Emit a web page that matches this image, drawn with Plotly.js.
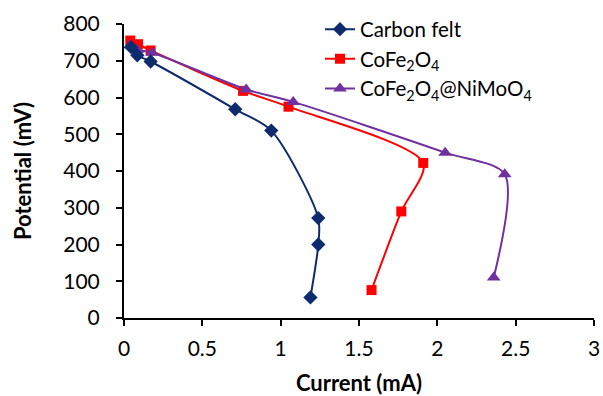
<!DOCTYPE html>
<html>
<head>
<meta charset="utf-8">
<script src="https://cdn.plot.ly/plotly-3.0.1.min.js"></script>
<style>html,body{margin:0;padding:0;background:#fff}#chart{width:603px;height:396px}</style>
</head>
<body>
<div id="chart"></div>
<script>
var carbonX = [0.045, 0.085, 0.17, 0.71, 0.94, 1.24, 1.24, 1.19];
var carbonY = [737, 715, 698, 568, 510, 272, 200, 56];
var cofeX = [0.04, 0.09, 0.17, 0.76, 1.05, 1.91, 1.77, 1.58];
var cofeY = [755, 745, 728, 618, 575, 422, 290, 76];
var nimoX = [0.04, 0.085, 0.18, 0.78, 1.08, 2.05, 2.43, 2.36];
var nimoY = [742, 730, 722, 622, 588, 450, 391, 110];
var names = ['Carbon felt', 'CoFe<sub>2</sub>O<sub>4</sub>', 'CoFe<sub>2</sub>O<sub>4</sub>@NiMoO<sub>4</sub>'];
var xTicks = [0, 0.5, 1, 1.5, 2, 2.5, 3];
var yTicks = [0, 100, 200, 300, 400, 500, 600, 700, 800];

var font = 'Lato, "Open Sans", sans-serif';
var traces = [
  {x: cofeX, y: cofeY, name: names[1], mode: 'lines+markers', line: {color: '#FF0000', width: 2, shape: 'spline', smoothing: 0.8},
   marker: {symbol: 'square', size: 10, color: '#FF0000'}},
  {x: nimoX, y: nimoY, name: names[2], mode: 'lines+markers', line: {color: '#7030A0', width: 2, shape: 'spline', smoothing: 0.8},
   marker: {symbol: 'triangle-up', size: 12, color: '#7030A0'}},
  {x: carbonX, y: carbonY, name: names[0], mode: 'lines+markers', line: {color: '#0E2B6E', width: 2, shape: 'spline', smoothing: 0.8},
   marker: {symbol: 'diamond', size: 11, color: '#0E2B6E'}}
];
var layout = {
  width: 603, height: 396,
  margin: {l: 124, r: 9, t: 24, b: 78},
  paper_bgcolor: '#fff', plot_bgcolor: '#fff',
  font: {family: font, size: 21, color: '#000'},
  showlegend: true,
  legend: {x: 0.417, y: 1.05, xanchor: 'left', yanchor: 'top', traceorder: 'normal', bgcolor: 'rgba(0,0,0,0)', font: {size: 20.5}, tracegroupgap: 0, itemwidth: 30},
  xaxis: {range: [0, 3], tickvals: xTicks, ticktext: xTicks.map(String), showgrid: false, zeroline: false,
    showline: true, linecolor: '#000', linewidth: 2, ticks: 'outside', ticklen: 6, tickwidth: 2, tickcolor: '#000',
    tickfont: {size: 21}, ticklabelstandoff: 5,
    title: {text: '<b>Current (mA)</b>', font: {size: 22}, standoff: 18}},
  yaxis: {range: [0, 800], tickvals: yTicks, ticktext: yTicks.map(String), showgrid: false, zeroline: false,
    showline: true, linecolor: '#000', linewidth: 2, ticks: 'outside', ticklen: 6, tickwidth: 2, tickcolor: '#000',
    tickfont: {size: 21}, ticklabelstandoff: 12,
    title: {text: '<b>Potential (mV)</b>', font: {size: 22}, standoff: 26}}
};
traces[2].legendrank = 1; traces[0].legendrank = 2; traces[1].legendrank = 3;
Plotly.newPlot('chart', traces, layout, {displayModeBar: false, staticPlot: true});
</script>
</body>
</html>
